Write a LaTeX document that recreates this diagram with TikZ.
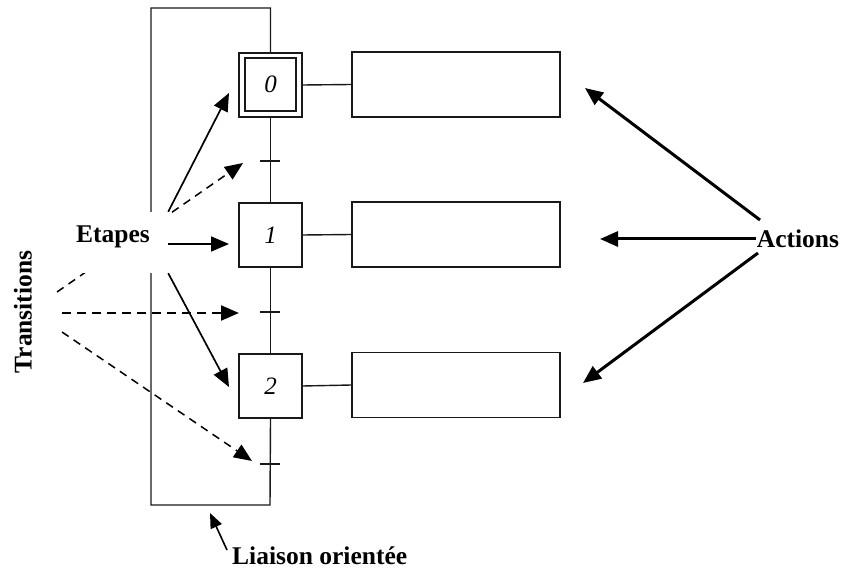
\documentclass[tikz,border=0pt]{standalone}
\usepackage{fontspec}
\setmainfont{Liberation Serif}
\usetikzlibrary{arrows.meta}

\begin{document}
\begin{tikzpicture}[x=1pt,y=-1pt,
  wire/.style={draw=black!90,line width=1.4pt},
  stepbox/.style={wire,fill=white,minimum width=63pt,minimum height=64pt,inner sep=0pt,
    font=\fontsize{25}{28}\selectfont\itshape},
  actbox/.style={wire,fill=white,minimum width=208pt,minimum height=65pt,inner sep=0pt},
  lbl/.style={font=\fontsize{25.5}{30}\selectfont\bfseries,inner sep=0pt},
  tip/.style={-{Triangle[length=18pt,width=15pt]}},
  etarrow/.style={tip,line width=1.7pt},
  trarrow/.style={tip,line width=1.5pt,dash pattern=on 8pt off 6pt},
  acarrow/.style={tip,line width=3pt},
]
\useasboundingbox (0,0) rectangle (844,572);

% grafcet steps
\node[stepbox] (s0) at (270.5,85) {};
\node[stepbox,minimum width=51pt,minimum height=53pt] (s0in) at (270.5,84.5) {0};
\node[stepbox] (s1) at (270.5,235) {1};
\node[stepbox] (s2) at (270.5,386) {2};

% transition points
\coordinate (t0) at (270,161);
\coordinate (t1) at (270,312);
\coordinate (t2) at (270,464);
\coordinate (loopBR) at (270,505);
\coordinate (loopTL) at (151,8);

% action boxes
\node[actbox] (a0) at (456,84.5) {};
\node[actbox] (a1) at (456,234.5) {};
\node[actbox] (a2) at (456,385) {};

% links between steps and return loop
\draw[wire] (s0.south) -- (s1.north);
\draw[wire] (s1.south) -- (s2.north);
\draw[wire] (s2.south) -- (loopBR) -| (loopTL) -| (s0.north);
\foreach \t in {t0,t1,t2}
  \draw[wire] ([xshift=-10pt]\t) -- ([xshift=10pt]\t);

\draw[wire] (s0.east) -- (a0.west);
\draw[wire] (s1.east) -- (a1.west);
\draw[wire] (s2.east) -- (a2.west);

% Transitions label and its arrows
\node[lbl,rotate=90] (trans) at (23,312) {Transitions};
\coordinate (tr0) at (57,292);
\coordinate (tr1) at (62,313);
\coordinate (tr2) at (62,332);
\coordinate (tt0) at (243,163);
\coordinate (tt1) at (239,313);
\coordinate (tt2) at (252,461);
\draw[trarrow] (tr0) -- (tt0);
\draw[trarrow,line width=2.2pt,dash pattern=on 9pt off 6pt] (tr1) -- (tt1);
\draw[trarrow] (tr2) -- (tt2);

% Etapes label on a white patch
\node[fill=white,minimum width=98pt,minimum height=61pt,inner sep=0pt] (etbg) at (119,242.5) {};
\node[lbl] (etapes) at (113,237) {Etapes};
\coordinate (et0) at (229,93);
\coordinate (et1) at (229,244);
\coordinate (et2) at (229,387);
\draw[etarrow] (etbg.north east) -- (et0);
\draw[etarrow] (etbg.east |- et1) -- (et1);
\draw[etarrow] (etbg.south east) -- (et2);

% Actions label and its arrows
\node[lbl] (actions) at (798,239) {Actions};
\coordinate (ac0) at (585,88);
\coordinate (ac1) at (600,239);
\coordinate (ac2) at (583,383);
\draw[acarrow] (760,220) -- (ac0);
\draw[acarrow] ([xshift=-1pt]actions.west) -- (ac1);
\draw[acarrow] (758,253) -- (ac2);

% oriented link label
\node[lbl,anchor=west] (liaison) at (232,556) {Liaison orientée};
\coordinate (li) at (210,513);
\draw[line width=1.6pt,-{Triangle[length=15pt,width=12pt]}] (227,550) -- (li);
\end{tikzpicture}
\end{document}
